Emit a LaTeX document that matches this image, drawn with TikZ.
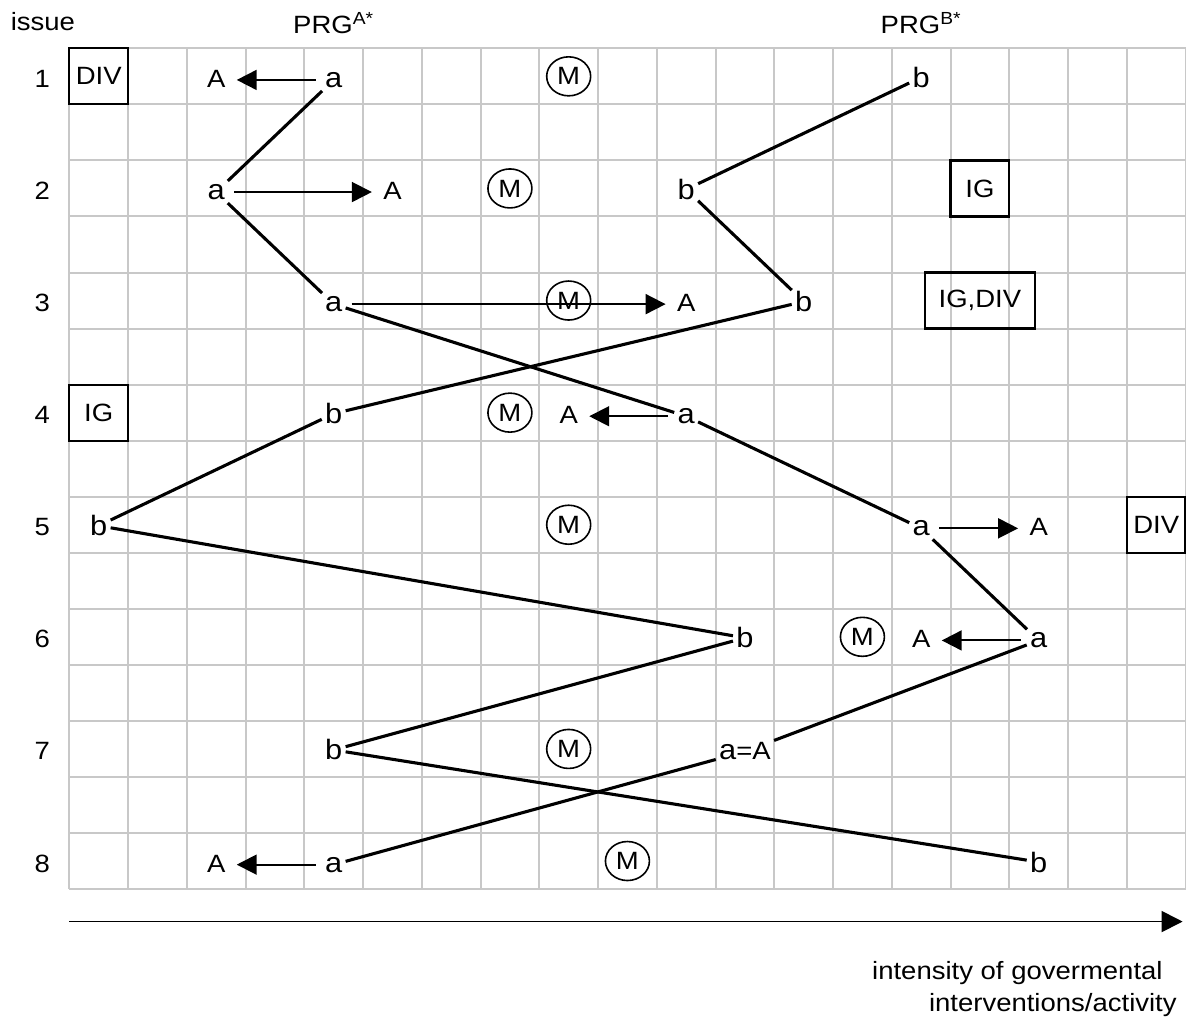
\documentclass[tikz,border=0pt]{standalone}
\usepackage{fontspec}
\setmainfont{Liberation Sans}[FakeStretch=1.1]
\usetikzlibrary{arrows.meta,shapes.geometric}
\definecolor{gridgray}{RGB}{200,200,200}
\newcommand\lcfont{\fontsize{14}{17}\selectfont}

\begin{document}
\begin{tikzpicture}
  [x = 29.375pt, y = 28.025pt,
   every node/.style={font=\fontsize{12.5}{15}\selectfont, inner sep=1.5pt},
   txt/.style={anchor=base, yshift=-5.5pt},
   lcl/.style={txt, font=\lcfont},
   box/.style={draw, line width=1.1pt, minimum width=29.375pt, minimum height=28.025pt, inner sep=0pt},
   mid/.style={draw, ellipse, line width=0.8pt, minimum width=22pt, minimum height=19.5pt, inner sep=0pt},
   link/.style={line width=1.55pt},
   move/.style={line width=0.95pt, -{Triangle[length=10pt, width=10pt]}, shorten <=3pt, shorten >=4pt}]
  \useasboundingbox (-1.1796,0.8617) rectangle (19.0077,-17.283);

  \foreach \x in {0,...,19} \draw[gridgray, line width=1pt] (\x,0) -- (\x,-15);
  \foreach \y in {0,...,15} \draw[gridgray, line width=1pt] (0,-\y) -- (19,-\y);

  \node[anchor=base] (head) at (-0.45,0.326) {issue};
  \node[anchor=base] (prgA) at (4.5,0.264) {PRG\textsuperscript{A*}};
  \node[anchor=base] (prgB) at (14.5,0.264) {PRG\textsuperscript{B*}};
  \foreach \i in {1,...,8} \node[txt] (n\i) at (-0.46,{1.5-2*\i}) {\i};

  \node[box] (div1) at (0.5,-0.5) {DIV};
  \node[box] (ig2) at (15.5,-2.5) {IG};
  \node[box, minimum width=55pt] (igdiv3) at (15.5,-4.5) {IG,DIV};
  \node[box] (ig4) at (0.5,-6.5) {IG};
  \node[box] (div5) at (18.5,-8.5) {DIV};

  \node[mid] (m1) at (8.5,-0.5) {M};
  \node[mid] (m2) at (7.5,-2.5) {M};
  \node[mid] (m3) at (8.5,-4.5) {M};
  \node[mid] (m4) at (7.5,-6.5) {M};
  \node[mid] (m5) at (8.5,-8.5) {M};
  \node[mid] (m6) at (13.5,-10.5) {M};
  \node[mid] (m7) at (8.5,-12.5) {M};
  \node[mid] (m8) at (9.5,-14.5) {M};

  \node[lcl] (a1) at (4.5,-0.5) {a};
  \node[lcl] (a2) at (2.5,-2.5) {a};
  \node[lcl] (a3) at (4.5,-4.5) {a};
  \node[lcl] (a4) at (10.5,-6.5) {a};
  \node[lcl] (a5) at (14.5,-8.5) {a};
  \node[lcl] (a6) at (16.5,-10.5) {a};
  \node[txt] (a7) at (11.5,-12.5) {{\lcfont a}=A};
  \node[lcl] (a8) at (4.5,-14.5) {a};

  \node[txt] (A1) at (2.5,-0.5) {A};
  \node[txt] (A2) at (5.5,-2.5) {A};
  \node[txt] (A3) at (10.5,-4.5) {A};
  \node[txt] (A4) at (8.5,-6.5) {A};
  \node[txt] (A5) at (16.5,-8.5) {A};
  \node[txt] (A6) at (14.5,-10.5) {A};
  \node[txt] (A8) at (2.5,-14.5) {A};

  \node[lcl] (b1) at (14.5,-0.5) {b};
  \node[lcl] (b2) at (10.5,-2.5) {b};
  \node[lcl] (b3) at (12.5,-4.5) {b};
  \node[lcl] (b4) at (4.5,-6.5) {b};
  \node[lcl] (b5) at (0.5,-8.5) {b};
  \node[lcl] (b6) at (11.5,-10.5) {b};
  \node[lcl] (b7) at (4.5,-12.5) {b};
  \node[lcl] (b8) at (16.5,-14.5) {b};

  \draw[link] (a1) -- (a2) -- (a3) -- (a4) -- (a5) -- (a6) -- (a7) -- (a8);
  \draw[link] (b1) -- (b2) -- (b3) -- (b4) -- (b5) -- (b6) -- (b7) -- (b8);

  \draw[move] (a1.west) -- (a1.west -| A1.east);
  \draw[move] (a2.east) -- (a2.east -| A2.west);
  \draw[move] (a3.east) -- (a3.east -| A3.west);
  \draw[move] (a4.west) -- (a4.west -| A4.east);
  \draw[move] (a5.east) -- (a5.east -| A5.west);
  \draw[move] (a6.west) -- (a6.west -| A6.east);
  \draw[move] (a8.west) -- (a8.west -| A8.east);

  \coordinate (axisL) at (0,-15.58);
  \coordinate (axisR) at (18.95,-15.58);
  \draw[line width=0.9pt, -{Triangle[length=10.5pt, width=10.5pt]}] (axisL) -- (axisR);
  \node[anchor=north east, align=right, inner sep=0pt, font=\fontsize{12.5}{16.3}\selectfont] (axistext) at (18.855,-16.277)
    {intensity of govermental\hspace*{7pt}\\interventions/activity};
\end{tikzpicture}
\end{document}
